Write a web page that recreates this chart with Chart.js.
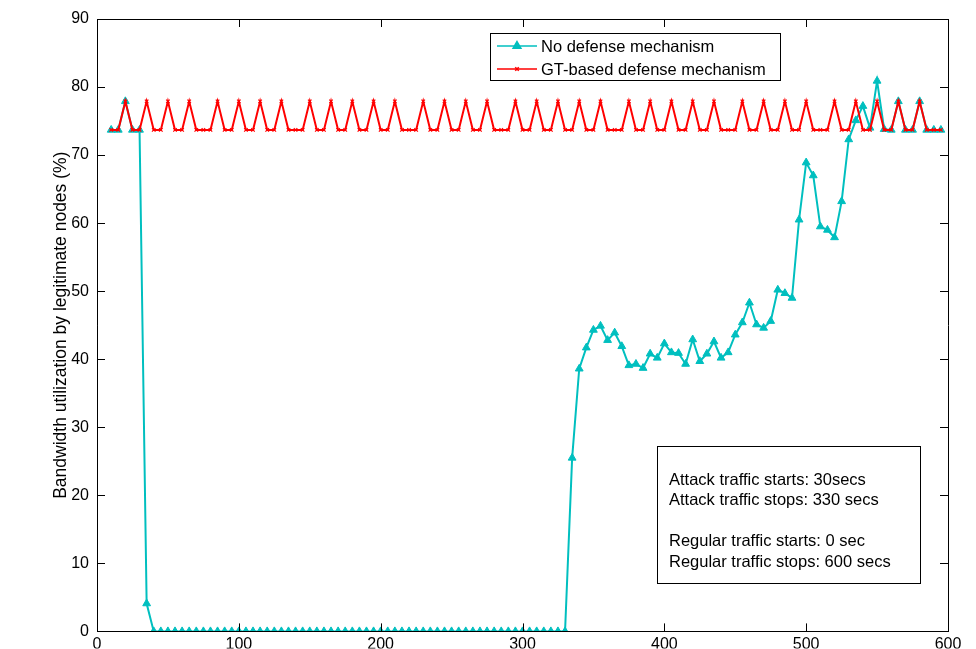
<!DOCTYPE html>
<html>
<head>
<meta charset="utf-8">
<script src="https://cdn.jsdelivr.net/npm/chart.js@4.4.1/dist/chart.umd.min.js"></script>
<style>
  html, body { margin: 0; padding: 0; background: #fff; overflow: hidden; }
  #mycan { display: block; }
</style>
</head>
<body>
<canvas id="mycan" width="976" height="649"></canvas>
<script>
// time in seconds
var times = [
  10, 15, 20, 25, 30, 35, 40, 45, 50, 55,
  60, 65, 70, 75, 80, 85, 90, 95, 100, 105,
  110, 115, 120, 125, 130, 135, 140, 145, 150, 155,
  160, 165, 170, 175, 180, 185, 190, 195, 200, 205,
  210, 215, 220, 225, 230, 235, 240, 245, 250, 255,
  260, 265, 270, 275, 280, 285, 290, 295, 300, 305,
  310, 315, 320, 325, 330, 335, 340, 345, 350, 355,
  360, 365, 370, 375, 380, 385, 390, 395, 400, 405,
  410, 415, 420, 425, 430, 435, 440, 445, 450, 455,
  460, 465, 470, 475, 480, 485, 490, 495, 500, 505,
  510, 515, 520, 525, 530, 535, 540, 545, 550, 555,
  560, 565, 570, 575, 580, 585, 590, 595
];

var noDefense = [
  73.7, 73.7, 77.9, 73.7, 73.7, 4.1, 0, 0, 0, 0,
  0, 0, 0, 0, 0, 0, 0, 0, 0, 0,
  0, 0, 0, 0, 0, 0, 0, 0, 0, 0,
  0, 0, 0, 0, 0, 0, 0, 0, 0, 0,
  0, 0, 0, 0, 0, 0, 0, 0, 0, 0,
  0, 0, 0, 0, 0, 0, 0, 0, 0, 0,
  0, 0, 0, 0, 0, 25.5, 38.6, 41.7, 44.3, 44.9,
  42.8, 43.9, 41.9, 39.1, 39.3, 38.7, 40.8, 40.2, 42.3, 41.0,
  40.9, 39.3, 42.9, 39.7, 40.8, 42.6, 40.2, 41.0, 43.6, 45.4,
  48.3, 45.1, 44.6, 45.6, 50.2, 49.7, 49.0, 60.5, 68.9, 67.0,
  59.5, 59.0, 57.9, 63.2, 72.3, 75.1, 77.2, 74.0, 80.9, 73.8,
  73.7, 77.9, 73.7, 73.7, 77.9, 73.7, 73.7, 73.7
];

var gtDefense = [
  73.7, 73.7, 77.9, 73.7, 73.7, 77.9, 73.7, 73.7, 77.9, 73.7,
  73.7, 77.9, 73.7, 73.7, 73.7, 77.9, 73.7, 73.7, 77.9, 73.7,
  73.7, 77.9, 73.7, 73.7, 77.9, 73.7, 73.7, 73.7, 77.9, 73.7,
  73.7, 77.9, 73.7, 73.7, 77.9, 73.7, 73.7, 77.9, 73.7, 73.7,
  77.9, 73.7, 73.7, 73.7, 77.9, 73.7, 73.7, 77.9, 73.7, 73.7,
  77.9, 73.7, 73.7, 77.9, 73.7, 73.7, 73.7, 77.9, 73.7, 73.7,
  77.9, 73.7, 73.7, 77.9, 73.7, 73.7, 77.9, 73.7, 73.7, 77.9,
  73.7, 73.7, 73.7, 77.9, 73.7, 73.7, 77.9, 73.7, 73.7, 77.9,
  73.7, 73.7, 77.9, 73.7, 73.7, 77.9, 73.7, 73.7, 73.7, 77.9,
  73.7, 73.7, 77.9, 73.7, 73.7, 77.9, 73.7, 73.7, 77.9, 73.7,
  73.7, 73.7, 77.9, 73.7, 73.7, 77.9, 73.7, 73.7, 77.9, 73.7,
  73.7, 77.9, 73.7, 73.7, 77.9, 73.7, 73.7, 73.7
];

var xTicks = [0, 100, 200, 300, 400, 500, 600];
var yTicks = [0, 10, 20, 30, 40, 50, 60, 70, 80, 90];

var seriesNames = ['No defense mechanism', 'GT-based defense mechanism'];
var noteLines = [
  'Attack traffic starts: 30secs',
  'Attack traffic stops: 330 secs',
  '',
  'Regular traffic starts: 0 sec',
  'Regular traffic stops: 600 secs'
];

var FONT = "'Liberation Sans', Arial, Helvetica, sans-serif";
var CYAN = '#00BFBF';
var RED = '#FF0000';

function pts(ys) {
  var out = [];
  for (var i = 0; i < times.length; i++) out.push({x: times[i], y: ys[i]});
  return out;
}

// box, inward ticks, legend and note box (matlab look)
var matlabDeco = {
  id: 'matlabDeco',
  afterDatasetsDraw: function(chart) {
    var ctx = chart.ctx;
    var a = chart.chartArea;
    var xs = chart.scales.x, ys = chart.scales.y;
    ctx.save();
    ctx.strokeStyle = '#000';
    ctx.lineWidth = 1;
    ctx.beginPath();
    ctx.rect(Math.round(a.left) + 0.5, Math.round(a.top) + 0.5,
             Math.round(a.right - a.left), Math.round(a.bottom - a.top));
    ctx.stroke();

    var tl = 8;
    ctx.beginPath();
    xTicks.forEach(function(v) {
      var px = Math.round(xs.getPixelForValue(v)) + 0.5;
      ctx.moveTo(px, a.bottom); ctx.lineTo(px, a.bottom - tl);
      ctx.moveTo(px, a.top); ctx.lineTo(px, a.top + tl);
    });
    yTicks.forEach(function(v) {
      var py = Math.round(ys.getPixelForValue(v)) + 0.5;
      ctx.moveTo(a.left, py); ctx.lineTo(a.left + tl, py);
      ctx.moveTo(a.right, py); ctx.lineTo(a.right - tl, py);
    });
    ctx.stroke();

    // legend
    var lx = 490, ly = 33, lw = 290, lh = 47;
    ctx.fillStyle = '#fff';
    ctx.fillRect(lx, ly, lw, lh);
    ctx.strokeRect(lx + 0.5, ly + 0.5, lw, lh);
    ctx.font = '16.5px ' + FONT;
    ctx.textBaseline = 'middle';
    chart.data.datasets.forEach(function(ds, i) {
      var rowY = ly + 13 + i * 23;
      ctx.strokeStyle = ds.borderColor;
      ctx.lineWidth = 1.5;
      ctx.beginPath();
      ctx.moveTo(lx + 7, rowY); ctx.lineTo(lx + 47, rowY);
      ctx.stroke();
      Chart.helpers.drawPoint(ctx, {
        pointStyle: ds.pointStyle, radius: ds.pointRadius,
        borderWidth: 1.5, rotation: 0
      }, lx + 27, rowY);
      ctx.fillStyle = ds.borderColor;
      if (ds.pointStyle === 'triangle') ctx.fill();
      ctx.fillStyle = '#000';
      ctx.fillText(ds.label, lx + 51, rowY + 1);
    });

    // note box
    var bx = 657, by = 446, bw = 263, bh = 137;
    ctx.fillStyle = '#fff';
    ctx.fillRect(bx, by, bw, bh);
    ctx.strokeStyle = '#000';
    ctx.lineWidth = 1;
    ctx.strokeRect(bx + 0.5, by + 0.5, bw, bh);
    ctx.fillStyle = '#000';
    noteLines.forEach(function(t, i) {
      ctx.fillText(t, bx + 12, by + 34 + i * 20.5);
    });
    ctx.restore();
  }
};

var ctx = document.getElementById('mycan');
var chart = new Chart(ctx, {
  type: 'line',
  data: {
    datasets: [
      {
        label: seriesNames[0],
        data: pts(noDefense),
        borderColor: CYAN,
        backgroundColor: CYAN,
        borderWidth: 2,
        pointStyle: 'triangle',
        pointRadius: 4.5,
        pointBorderWidth: 1,
        clip: { left: 6, right: 6, top: 6, bottom: 0 },
        order: 2
      },
      {
        label: seriesNames[1],
        data: pts(gtDefense),
        borderColor: RED,
        backgroundColor: RED,
        borderWidth: 2,
        pointStyle: 'crossRot',
        pointRadius: 2.5,
        pointBorderWidth: 1.2,
        order: 1
      }
    ]
  },
  options: {
    responsive: false,
    animation: false,
    devicePixelRatio: 1,
    layout: { padding: { top: 19, right: 28, left: 0, bottom: 0 } },
    plugins: { legend: { display: false }, tooltip: { enabled: false } },
    elements: { line: { tension: 0 } },
    scales: {
      x: {
        type: 'linear',
        min: 0, max: 600,
        afterFit: function(s) { s.height = 17; },
        afterBuildTicks: function(s) { s.ticks = xTicks.map(function(v) { return {value: v}; }); },
        grid: { display: false, drawTicks: false },
        border: { display: true, color: '#000', width: 1 },
        ticks: { color: '#000', padding: 4, maxRotation: 0, font: { family: FONT, size: 16 } }
      },
      y: {
        min: 0, max: 90,
        afterFit: function(s) { s.width = 97; },
        afterBuildTicks: function(s) { s.ticks = yTicks.map(function(v) { return {value: v}; }); },
        grid: { display: false, drawTicks: false },
        border: { display: true, color: '#000', width: 1 },
        ticks: { color: '#000', padding: 8, font: { family: FONT, size: 16 } },
        title: {
          display: true,
          text: 'Bandwidth utilization by legitimate nodes (%)',
          color: '#000',
          font: { family: FONT, size: 17.5 },
          padding: { top: 51, bottom: 0 }
        }
      }
    }
  },
  plugins: [matlabDeco]
});
</script>
</body>
</html>
